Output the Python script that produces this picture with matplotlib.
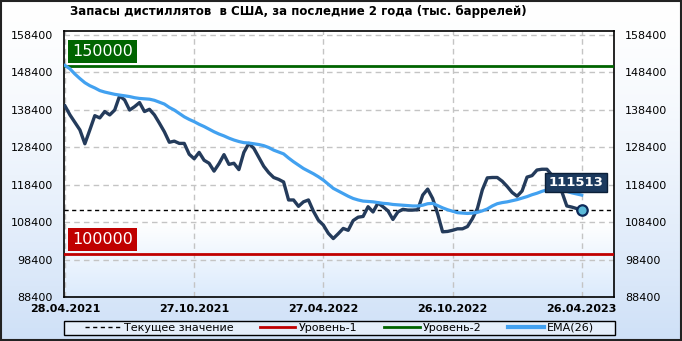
import numpy as np
import matplotlib
matplotlib.use("Agg")
import matplotlib.pyplot as plt
from matplotlib.lines import Line2D
from matplotlib.patches import Rectangle
import matplotlib.transforms as mtransforms

# ---------------- data ----------------
title = "Запасы дистиллятов  в США, за последние 2 года (тыс. баррелей)"
tick_labels = ['28.04.2021', '27.10.2021', '27.04.2022', '26.10.2022', '26.04.2023']
tick_weeks = [0, 26, 52, 78, 104]

stocks = [139400, 137000, 135000, 133000, 129300, 133000, 136800, 136200, 137900, 137000,
          138300, 142100, 141000, 138300, 139200, 140300, 137900, 138500, 137000, 134800,
          132500, 129700, 130000, 129400, 129400, 126500, 125300, 127000, 124900, 124100,
          122000, 124000, 126400, 123800, 124100, 122400, 127000, 129400, 128100, 125700,
          123300, 121600, 120300, 119800, 119100, 114300, 114300, 112600, 113800, 114300,
          111300, 108900, 107600, 105400, 104000, 105300, 106700, 106200, 108800, 109700,
          109900, 112500, 111100, 113500, 112500, 111400, 109100, 111100, 111800, 111600,
          111600, 111700, 115600, 117200, 114700, 110600, 105800, 105900, 106200, 106600,
          106600, 107200, 109300, 112000, 117000, 120200, 120300, 120300, 119300, 117900,
          116300, 115300, 116700, 120400, 120800, 122300, 122500, 122500, 120900, 118800,
          116500, 112700, 112400, 112000, 111513]

ema26 = [150200, 149300, 147900, 146700, 145600, 144800, 144200, 143500, 143100, 142800,
         142500, 142300, 142100, 141900, 141600, 141400, 141300, 141200, 140900, 140400,
         139900, 139000, 138300, 137400, 136500, 135800, 135200, 134500, 133900, 133200,
         132500, 131900, 131400, 130800, 130300, 129900, 129600, 129500, 129300, 129100,
         128800, 128300, 127600, 127100, 126600, 125500, 124500, 123600, 122700, 122000,
         121300, 120500, 119600, 118500, 117400, 116700, 116000, 115300, 114700, 114300,
         114000, 113900, 113800, 113600, 113400, 113300, 113100, 113000, 112900, 112800,
         112700, 112700, 112900, 113300, 113400, 112800, 112200, 111700, 111300, 110900,
         110800, 110700, 110800, 111000, 111400, 111900, 112700, 113300, 113600, 113800,
         114100, 114400, 114800, 115200, 115700, 116100, 116600, 117000, 117200, 117300,
         117000, 116600, 116200, 115900, 115600]

level1 = 100000
level2 = 150000
current = stocks[-1]
y_ticks = [88400, 98400, 108400, 118400, 128400, 138400, 148400, 158400]

# ---------------- figure ----------------
W, H = 682, 341
fig = plt.figure(figsize=(W / 100, H / 100), dpi=100)
fig.patch.set_facecolor('white')

# figure background gradient
bg = fig.add_axes([0, 0, 1, 1], zorder=-10)
bg.axis('off')
g = np.linspace(0, 1, 256)[:, None]
c_top = np.array([1.0, 1.0, 1.0])
c_bot = np.array([0.81, 0.88, 0.97])
t = np.clip(g, 0, 1) ** 1.4
img = c_top * (1 - t[..., None]) + c_bot * t[..., None]
img = np.repeat(img, 2, axis=1)
bg.imshow(img, aspect='auto', extent=[0, 1, 0, 1], origin='upper')
bg.set_xlim(0, 1)
bg.set_ylim(0, 1)

L, R, T, B = 64, 614, 31, 297
ax = fig.add_axes([L / W, 1 - B / H, (R - L) / W, (B - T) / H])
x = np.arange(len(stocks))
ax.set_xlim(-0.2, 110.5)
ax.set_ylim(88400, 159400)

# plot area gradient
ga = np.linspace(0, 1, 256)
tt = np.clip((ga - 0.72) / 0.28, 0, 1)
pc_bot = np.array([0.86, 0.92, 0.99])
pimg = np.ones((256, 2, 3)) * (1 - tt[:, None, None]) + pc_bot * tt[:, None, None]
ax.imshow(pimg, aspect='auto', extent=[0, 1, 0, 1], origin='upper',
          transform=ax.transAxes, zorder=0)

ax.set_yticks(y_ticks)
ax.set_xticks(tick_weeks)
ax.set_xticklabels(tick_labels, fontweight='bold', fontsize=8)
ax.tick_params(axis='both', length=0)
ax.tick_params(axis='y', labelsize=8, pad=8, labelleft=True, labelright=True)
ax.tick_params(axis='x', pad=5)
ax.grid(True, color='#c4c4c4', linestyle=(0, (4, 3)), linewidth=1, zorder=1)
ax.set_axisbelow(True)
for s in ax.spines.values():
    s.set_linewidth(1.2)
    s.set_color('black')

ax.axhline(level2, color='#006400', lw=2, zorder=3)
ax.axhline(level1, color='#c00000', lw=2, zorder=3)
ax.axhline(current, color='black', lw=1, linestyle=(0, (3, 2.5)), zorder=3)

ax.plot(x, stocks, color='#243b5b', lw=2.4, zorder=4, solid_joinstyle='round')
ax.plot(x, ema26, color='#42a1f0', lw=2.3, zorder=5)
ax.plot([x[-1]], [current], 'o', ms=7.5, mfc='#5cbad8', mec='#0d2a5a', mew=1.6, zorder=7)

trans = mtransforms.blended_transform_factory(ax.transAxes, ax.transData)
for val, col in [(level2, '#006400'), (level1, '#c00000')]:
    ax.annotate(f"{val}", xy=(0.015, val), xycoords=trans, xytext=(0, 5),
                textcoords='offset points', ha='left', va='bottom', fontsize=11.5,
                color='white', zorder=8,
                bbox=dict(boxstyle='square,pad=0.25', fc=col, ec='none'))

ax.annotate(f"{current}", xy=(x[-1], current), xytext=(-4, 20), textcoords='offset points',
            ha='center', va='center', fontsize=9.5, fontweight='bold', color='white', zorder=9,
            bbox=dict(boxstyle='square,pad=0.25', fc='#1c3a5e', ec='#0b1f38', lw=1))

fig.text(70 / W, 1 - 12 / H, title, ha='left', va='center', fontsize=8.5, fontweight='bold')

# legend
fig.patches.append(Rectangle((64 / W, 1 - 335 / H), 551 / W, 14 / H, transform=fig.transFigure,
                             fc=(1, 1, 1, 0.45), ec='black', lw=1))
handles = [Line2D([], [], color='black', lw=1, linestyle=(0, (3, 2.5))),
           Line2D([], [], color='#c00000', lw=2),
           Line2D([], [], color='#006400', lw=2),
           Line2D([], [], color='#42a1f0', lw=3)]
labels = ['Текущее значение', 'Уровень-1', 'Уровень-2', 'EMA(26)']
leg = fig.legend(handles, labels, ncol=4, loc='center',
                 bbox_to_anchor=(64 / W, 1 - 335 / H, 551 / W, 14 / H),
                 fontsize=8, frameon=False,
                 handlelength=3.2, handletextpad=0.3, columnspacing=2.4,
                 borderpad=0.15, borderaxespad=0)

fig.patches.append(Rectangle((0.0015, 0.003), 0.997, 0.994, transform=fig.transFigure,
                             fill=False, ec='#222222', lw=1.5))

fig.savefig('out.png', dpi=100)
